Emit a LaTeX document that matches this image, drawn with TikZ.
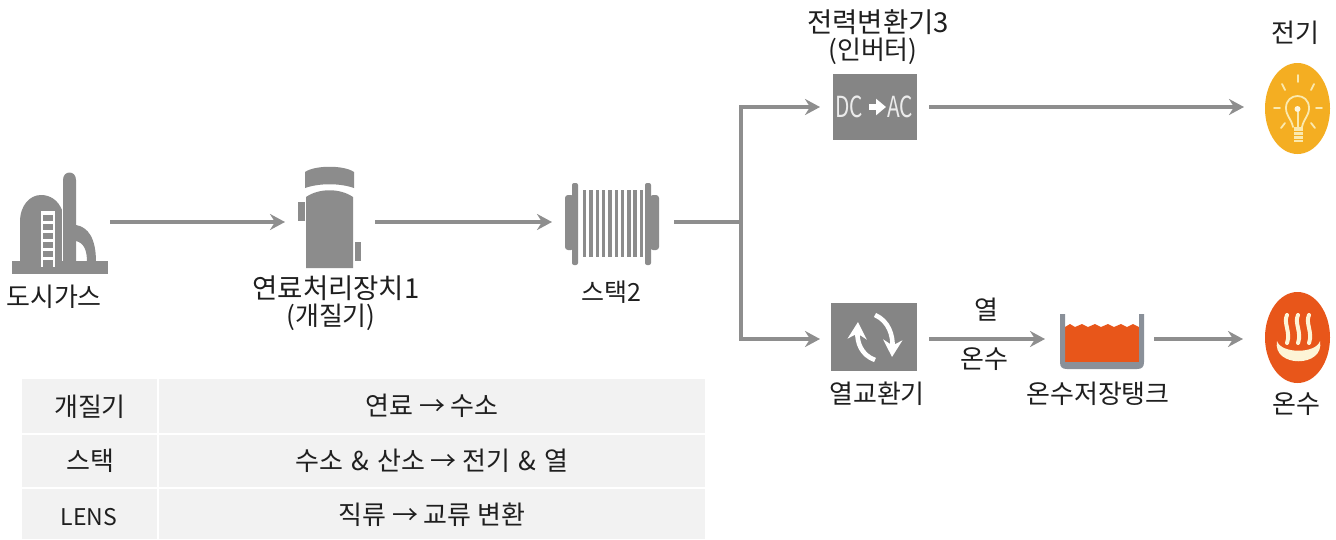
\documentclass[tikz,border=0pt]{standalone}
\usepackage{fontspec}
\setmainfont{Noto Sans CJK KR}
\usetikzlibrary{arrows.meta,calc}
\definecolor{icongray}{HTML}{8C8C8C}
\definecolor{linegray}{HTML}{8E8E8E}
\definecolor{cellgray}{HTML}{F2F2F2}
\definecolor{hotorange}{HTML}{E8561A}
\definecolor{bulbyellow}{HTML}{F4AE22}
\definecolor{bulbline}{HTML}{FBE9AE}
\definecolor{tankgray}{HTML}{8A9099}
\tikzset{
  flow/.style={draw=linegray,line width=3.6pt,-{Stealth[length=15pt,width=16pt,inset=5pt]}},
  trunk/.style={draw=linegray,line width=3.6pt},
  lbl/.style={font=\fontsize{26}{28}\selectfont,text=black!88,inner sep=0pt,anchor=center},
  widelbl/.style={lbl,font=\fontsize{27.5}{30}\selectfont},
  hit/.style={inner sep=0pt,outer sep=0pt,minimum height=10pt},
  cell/.style={fill=cellgray,draw=none},
  ico/.style={fill=icongray,draw=none},
  cut/.style={draw=white,line width=1.6pt},
  glow/.style={draw=bulbline,line width=1.8pt,line cap=round},
  rot/.style={draw=white,line width=4.6pt,-{Stealth[length=17pt,width=19pt]}}
}
\begin{document}
\begin{tikzpicture}[x=1pt,y=-1pt]
\useasboundingbox (0,0) rectangle (1336,539);
\fill[white] (0,0) rectangle (1336,539);

% invisible extents of the icons, whose sides are the connector ends
\node[hit,minimum width=110pt] (plant) at (55,222) {};
\node[hit,minimum width=90pt] (reformer) at (330,222) {};
\node[hit,minimum width=122pt] (stack) at (613,222) {};
\node[hit,minimum width=109pt] (dcac) at (874.5,107) {};
\node[hit,minimum width=92pt] (bulb) at (1290,107) {};
\node[hit,minimum width=109pt] (heatx) at (874.5,339) {};
\node[hit,minimum width=109pt] (tank) at (1099.5,339) {};
\node[hit,minimum width=93pt] (spring) at (1289.5,339) {};
\coordinate (split) at (741,222);

% plant icon
\fill[ico] (12,261) rectangle (108,274);
\fill[ico] (20,262) -- (20,222) .. controls (20,205) and (30,195) .. (41,195) .. controls (50,195) and (58,200) .. (62,210) -- (62,262) -- cycle;
\fill[ico] (63,262) -- (63,180) .. controls (63,170) and (76,170) .. (76,180) -- (76,262) -- cycle;
\fill[ico] (76,225) .. controls (88,227) and (96,238) .. (96,262) -- (87,262) .. controls (87,250) and (84,243) .. (76,241) -- cycle;
\fill[white] (41,211) rectangle (55,267);
\fill[ico] (43,215) rectangle (53,221);
\fill[ico] (43,224) rectangle (53,230);
\fill[ico] (43,233) rectangle (53,239);
\fill[ico] (43,242) rectangle (53,248);
\fill[ico] (43,251) rectangle (53,257);
\fill[ico] (43,260) rectangle (53,267);
\draw[cut,line width=1.2pt] (62.5,208) -- (62.5,261);

% reformer icon
\fill[ico] (305,172) .. controls (315,165) and (344,165) .. (354,172) -- (354,188) .. controls (340,183) and (319,183) .. (305,188) -- cycle;
\fill[ico] (306,197) .. controls (319,188) and (340,188) .. (353,197) -- (353,268) -- (306,268) -- cycle;
\fill[ico] (298,202) rectangle (305,221);
\fill[ico] (355,242) rectangle (361,261);

% stack icon
\fill[ico,rounded corners=3pt] (565,195) rectangle (574,250);
\fill[ico,rounded corners=2pt] (572,183) rectangle (578,265);
\foreach \xx in {583,589.3,595.6,601.9,608.2,614.5,620.8,627.1,633.4,639.7}
  \fill[ico] (\xx,190) rectangle ++(3.4,67);
\fill[ico,rounded corners=2pt] (645,183) rectangle (651,265);
\fill[ico,rounded corners=3pt] (650,195) rectangle (659,250);

% converter icon
\fill[icongray!95!black] (833,74) rectangle (917,140);
\node[inner sep=0pt,text=white!92!black,font=\fontsize{29}{29}\selectfont,xscale=.72] (dctext) at (849,107) {DC};
\node[inner sep=0pt,text=white!92!black,font=\fontsize{29}{29}\selectfont,xscale=.72] (actext) at (900,107) {AC};
\draw[white,line width=5.5pt,-{Stealth[length=10pt,width=16pt,inset=0pt]}] (869,107) -- (886,107);

% bulb icon
\fill[bulbyellow] (1297.5,108.5) ellipse[x radius=32.5,y radius=45.5];
\draw[glow] (1293,127) .. controls (1291,118) and (1286,116) .. (1286,108) .. controls (1286,92) and (1309,92) .. (1309,108) .. controls (1309,116) and (1304,118) .. (1302,127);
\fill[bulbline] (1294,127) rectangle (1303,142);
\foreach \yy in {131,135,139} \draw[bulbyellow,line width=.8pt] (1294,\yy) -- (1303,\yy);
\draw[glow] (1298,127) -- (1298,110);
\fill[white!60!bulbline] (1297.5,109) circle[radius=3];
\draw[glow] (1298,75) -- (1298,82);
\draw[glow] (1282,84) -- (1285,90);
\draw[glow] (1314,84) -- (1311,90);
\draw[glow] (1274,108) -- (1280,108);
\draw[glow] (1316,108) -- (1322,108);
\draw[glow] (1281,128) -- (1285,123);
\draw[glow] (1315,128) -- (1311,123);

% heat exchanger icon
\fill[icongray!95!black] (831,303) rectangle (917,371);
\draw[rot] (875,360) .. controls (861,355) and (857,342) .. (858,322);
\draw[rot] (875,315) .. controls (889,321) and (893,336) .. (892,357);

% tank icon
\fill[hotorange] (1065,327) -- (1070,324) -- (1075,327) -- (1082,324) -- (1088,327) -- (1095,324) -- (1101,327) -- (1108,324) -- (1114,327) -- (1121,324) -- (1127,327) -- (1133,324) -- (1139,327) -- (1139,363) -- (1065,363) -- cycle;
\fill[tankgray] (1060,314) -- (1065,314) -- (1065,362) -- (1139,362) -- (1139,314) -- (1144,314) -- (1144,362) .. controls (1144,367) and (1142,369) .. (1137,369) -- (1067,369) .. controls (1062,369) and (1060,367) .. (1060,362) -- cycle;

% hot water icon
\fill[hotorange] (1297.5,337.5) ellipse[x radius=32.5,y radius=45.5];
\foreach \xx in {1287,1298,1309}
  \draw[draw=white!50!bulbline,line width=4pt,line cap=round] (\xx,315) .. controls (\xx-4,323) and (\xx+4,332) .. (\xx,343);
\fill[white!50!bulbline] (1277,341) .. controls (1272,368) and (1325,368) .. (1320,341) .. controls (1316,354) and (1281,354) .. (1277,341) -- cycle;

% connectors
\path[flow] (plant.east) -- (reformer.west);
\path[flow] (reformer.east) -- (stack.west);
\path[trunk] (stack.east) -- (split);
\path[flow] (split) |- (dcac.west);
\path[flow] (split) |- (heatx.west);
\path[flow] (dcac.east) -- (bulb.west);
\path[flow] (heatx.east) -- (tank.west);
\path[flow] (tank.east) -- (spring.west);

% labels
\node[lbl] (t1) at (54,297) {도시가스};
\node[widelbl] (t2) at (336,288) {연료처리장치1};
\node[lbl] (t3) at (331,317) {(개질기)};
\node[lbl,font=\fontsize{25}{28}\selectfont] (t4) at (611,292) {스택2};
\node[widelbl] (t5) at (878,22) {전력변환기3};
\node[lbl] (t6) at (873,51) {(인버터)};
\node[lbl] (t7) at (1295,33) {전기};
\node[lbl] (t8) at (986,310) {열};
\node[lbl] (t9) at (984,359) {온수};
\node[lbl] (t10) at (877,394) {열교환기};
\node[lbl] (t11) at (1098,394) {온수저장탱크};
\node[lbl] (t12) at (1296,404) {온수};

% table
\fill[cell] (22,379) rectangle (157,433);
\fill[cell] (159,379) rectangle (705,433);
\fill[cell] (22,435) rectangle (157,487);
\fill[cell] (159,435) rectangle (705,487);
\fill[cell] (22,489) rectangle (157,539);
\fill[cell] (159,489) rectangle (705,539);
\node[lbl] (c1) at (90,407) {개질기};
\node[lbl] (c2) at (432,406) {연료 → 수소};
\node[lbl] (c3) at (90,461) {스택};
\node[lbl] (c4) at (432,461) {수소\hspace{2.5pt} \&\hspace{2.5pt} 산소 → 전기\hspace{2.5pt} \&\hspace{2.5pt} 열};
\node[lbl,font=\fontsize{23}{26}\selectfont] (c5) at (89,517) {LENS};
\node[lbl] (c6) at (432,515) {직류 → 교류 변환};
\end{tikzpicture}
\end{document}
